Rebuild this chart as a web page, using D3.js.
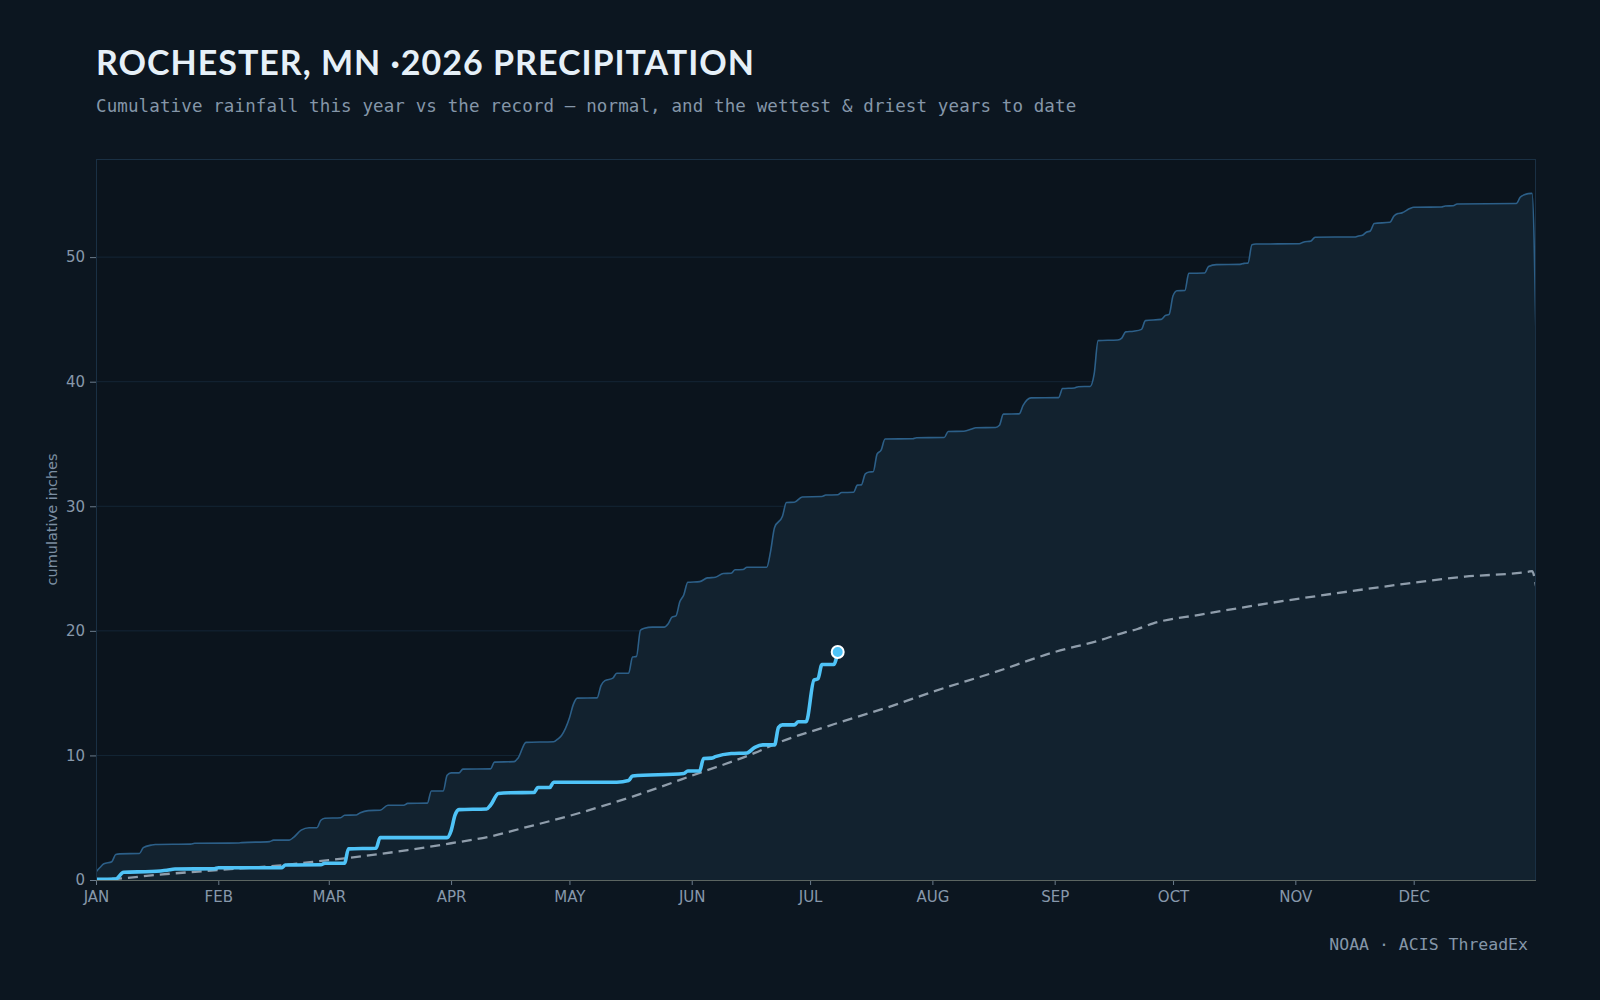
<!DOCTYPE html>
<html>
<head>
<meta charset="utf-8">
<script src="https://cdn.jsdelivr.net/npm/d3@7"></script>
<style>
  html, body { margin: 0; padding: 0; background: #0c1620; }
  svg { display: block; }
</style>
</head>
<body>
<div id="chart"></div>
<script>
// day of year (0 = Jan 1), cumulative inches
var thisYear = [
  [0, 0.05], [5, 0.08], [7, 0.62], [14, 0.68], [18, 0.78], [20, 0.88], [30, 0.9],
  [31, 0.98], [47, 0.98], [48, 1.2], [57, 1.22], [58, 1.35], [63, 1.35], [64, 2.5],
  [71, 2.55], [72, 3.4], [89, 3.4], [90, 3.95], [91, 5.2], [92, 5.65], [99, 5.7],
  [100, 6.0], [102, 6.95], [105, 7.0], [111, 7.02], [112, 7.42], [115, 7.42],
  [116, 7.85], [132, 7.85], [135, 7.98], [136, 8.35], [149, 8.55], [150, 8.75],
  [153, 8.75], [154, 9.75], [156, 9.78], [157, 9.9], [161, 10.15], [165, 10.2],
  [167, 10.65], [169, 10.85], [172, 10.85], [173, 12.25], [174, 12.45], [177, 12.45],
  [178, 12.7], [180, 12.7], [182, 16.05], [183, 16.15], [184, 17.3], [187, 17.3],
  [188, 18.3]
];

var normal = [
  [0, 0.02], [6, 0.12], [15, 0.4], [31, 0.8], [46, 1.15], [59, 1.6], [63, 1.74],
  [79, 2.4], [90, 2.95], [100, 3.5], [108, 4.15], [120, 5.15], [136, 6.7], [153, 8.6],
  [167, 10.2], [172, 10.9], [187, 12.5], [202, 14.0], [212, 15.1], [228, 16.7],
  [243, 18.3], [254, 19.2], [261, 19.9], [264, 20.15], [268, 20.6], [280, 21.3],
  [297, 22.2], [314, 23.0], [330, 23.7], [347, 24.35], [363, 24.74], [364, 24.8],
  [365, 23.6]
];

var wettest = [
  [0, 0.65], [1, 1.0], [2, 1.3], [4, 1.47], [5, 2.05], [6, 2.1], [11, 2.13], [12, 2.6],
  [14, 2.8], [15, 2.85], [24, 2.88], [25, 2.95], [36, 2.97], [37, 3.0], [44, 3.08],
  [45, 3.2], [49, 3.2], [50, 3.4], [52, 4.0], [54, 4.2], [56, 4.2], [57, 4.8],
  [58, 4.96], [62, 5.0], [63, 5.2], [66, 5.22], [67, 5.4], [69, 5.57], [72, 5.6],
  [74, 6.0], [78, 6.0], [79, 6.15], [84, 6.17], [85, 7.15], [88, 7.15], [89, 8.4],
  [90, 8.6], [92, 8.6], [93, 8.9], [100, 8.92], [101, 9.46], [106, 9.5], [107, 9.8],
  [109, 11.05], [116, 11.1], [117, 11.3], [118, 11.6], [120, 13.0], [121, 14.1],
  [122, 14.6], [127, 14.62], [128, 15.6], [129, 16.0], [131, 16.2], [132, 16.6],
  [135, 16.6], [136, 17.9], [137, 17.95], [138, 20.05], [139, 20.2], [141, 20.3],
  [144, 20.3], [145, 20.55], [146, 21.1], [147, 21.2], [148, 22.35], [149, 22.9],
  [150, 23.9], [153, 23.95], [155, 24.25], [157, 24.3], [159, 24.6], [161, 24.62],
  [162, 24.9], [164, 24.92], [165, 25.1], [170, 25.1], [171, 26.4], [172, 28.3],
  [174, 29.2], [175, 30.3], [177, 30.32], [179, 30.75], [184, 30.78], [185, 30.9],
  [188, 30.92], [189, 31.1], [192, 31.12], [193, 31.7], [194, 31.72], [195, 32.6],
  [196, 32.75], [197, 32.77], [198, 34.2], [199, 34.5], [200, 35.4], [207, 35.42],
  [208, 35.5], [215, 35.52], [216, 36.0], [220, 36.02], [222, 36.2], [223, 36.3],
  [228, 36.32], [229, 36.5], [230, 37.4], [234, 37.42], [235, 38.1], [237, 38.7],
  [244, 38.72], [245, 39.45], [248, 39.5], [249, 39.6], [252, 39.62], [253, 40.6],
  [254, 43.3], [259, 43.35], [260, 43.5], [261, 44.0], [263, 44.05], [265, 44.2],
  [266, 44.9], [270, 45.0], [271, 45.3], [272, 45.4], [273, 46.9], [274, 47.3],
  [276, 47.32], [277, 48.7], [281, 48.72], [282, 49.25], [284, 49.4], [290, 49.42],
  [291, 49.5], [292, 49.52], [293, 51.0], [294, 51.05], [305, 51.07], [306, 51.2],
  [308, 51.3], [309, 51.6], [319, 51.62], [320, 51.7], [321, 51.75], [322, 52.0],
  [323, 52.1], [324, 52.7], [328, 52.8], [329, 53.3], [330, 53.5], [331, 53.55],
  [333, 53.9], [334, 54.0], [341, 54.02], [342, 54.1], [344, 54.12], [345, 54.26],
  [360, 54.3], [361, 54.8], [362, 55.0], [363, 55.1], [364, 55.12], [365, 43.5]
];

var monthLabels = ["JAN", "FEB", "MAR", "APR", "MAY", "JUN", "JUL", "AUG", "SEP", "OCT", "NOV", "DEC"];
var monthStarts = [0, 31, 59, 90, 120, 151, 181, 212, 243, 273, 304, 334];
var yTicks = [0, 10, 20, 30, 40, 50];

function chart() {
  var W = 1600, H = 1000;
  var margin = { top: 159, right: 64, bottom: 120, left: 96 };
  var width = W - margin.left - margin.right,
    height = H - margin.top - margin.bottom;

  var svg = d3
    .select("#chart")
    .append("svg")
    .attr("width", W)
    .attr("height", H);

  svg.append("rect").attr("width", W).attr("height", H).attr("fill", "#0c1620");

  // title + subtitle
  svg
    .append("text")
    .attr("x", 96)
    .attr("y", 75)
    .style("font-family", "Lato, 'Open Sans', sans-serif")
    .style("font-weight", "700")
    .style("font-size", "34px")
    .style("letter-spacing", "1px")
    .style("fill", "#e6f0f8")
    .text("ROCHESTER, MN ·2026 PRECIPITATION");

  svg
    .append("text")
    .attr("x", 96)
    .attr("y", 112)
    .style("font-family", "'DejaVu Sans Mono', monospace")
    .style("font-size", "17.5px")
    .style("letter-spacing", "0.12px")
    .style("fill", "#8596a9")
    .text("Cumulative rainfall this year vs the record — normal, and the wettest & driest years to date");

  var g = svg
    .append("g")
    .attr("transform", "translate(" + margin.left + "," + margin.top + ")");

  var x = d3.scaleLinear().domain([0, 365]).range([0, width]);
  var y = d3
    .scaleLinear()
    .domain([0, d3.max(wettest, (d) => d[1]) * 1.05])
    .range([height, 0]);

  g.append("rect")
    .attr("width", width)
    .attr("height", height)
    .attr("fill", "#0b141d");

  g.append("clipPath")
    .attr("id", "plotclip")
    .append("rect")
    .attr("width", width)
    .attr("height", height);

  // gridlines
  g.selectAll(".grid")
    .data(yTicks.filter((d) => d > 0))
    .enter()
    .append("line")
    .attr("x1", 0)
    .attr("x2", width)
    .attr("y1", (d) => y(d))
    .attr("y2", (d) => y(d))
    .attr("stroke", "#142636")
    .attr("stroke-width", 1);

  var plot = g.append("g").attr("clip-path", "url(#plotclip)");

  var area = d3
    .area()
    .x((d) => x(d[0]))
    .y0(y(0))
    .y1((d) => y(d[1]))
    .curve(d3.curveMonotoneX);

  var line = d3
    .line()
    .x((d) => x(d[0]))
    .y((d) => y(d[1]))
    .curve(d3.curveMonotoneX);

  plot
    .append("path")
    .datum(wettest)
    .attr("d", area)
    .attr("fill", "#12222f");

  plot
    .append("path")
    .datum(wettest)
    .attr("d", line)
    .attr("fill", "none")
    .attr("stroke", "#2c5f88")
    .attr("stroke-width", 1.6);

  plot
    .append("path")
    .datum(normal)
    .attr("d", line)
    .attr("fill", "none")
    .attr("stroke", "#8f9dab")
    .attr("stroke-width", 2.3)
    .attr("stroke-dasharray", "10,6");

  plot
    .append("path")
    .datum(thisYear)
    .attr("d", line)
    .attr("fill", "none")
    .attr("stroke", "#4fc3f7")
    .attr("stroke-width", 3.6)
    .attr("stroke-linejoin", "round");

  var last = thisYear[thisYear.length - 1];
  g.append("circle")
    .attr("cx", x(last[0]))
    .attr("cy", y(last[1]))
    .attr("r", 6)
    .attr("fill", "#4fc3f7")
    .attr("stroke", "#ffffff")
    .attr("stroke-width", 2);

  // plot frame
  g.append("rect")
    .attr("x", 0.5)
    .attr("y", 0.5)
    .attr("width", width - 1)
    .attr("height", height)
    .attr("fill", "none")
    .attr("stroke", "#1a3044")
    .attr("stroke-width", 1);

  // axes
  var xAxis = g
    .append("g")
    .attr("transform", "translate(0," + height + ")")
    .call(
      d3
        .axisBottom(x)
        .tickValues(monthStarts)
        .tickFormat((d, i) => monthLabels[i])
        .tickSize(5)
        .tickPadding(6)
    );
  xAxis.select(".domain").remove();
  xAxis.selectAll("line").attr("stroke", "#6b7b8b");
  xAxis
    .selectAll("text")
    .style("font-family", "'DejaVu Sans', sans-serif")
    .style("font-size", "15px")
    .style("fill", "#8798ab");

  g.append("line")
    .attr("x1", 0)
    .attr("x2", width)
    .attr("y1", height + 0.5)
    .attr("y2", height + 0.5)
    .attr("stroke", "#5c6561")
    .attr("stroke-width", 1.2);

  var yAxis = g
    .append("g")
    .call(d3.axisLeft(y).tickValues(yTicks).tickSize(6).tickPadding(5));
  yAxis.select(".domain").remove();
  yAxis.selectAll("line").attr("stroke", "#6b7b8b");
  yAxis
    .selectAll("text")
    .style("font-family", "'DejaVu Sans', sans-serif")
    .style("font-size", "15px")
    .style("fill", "#8798ab");

  svg
    .append("text")
    .attr("transform", "translate(57," + (margin.top + height / 2) + ") rotate(-90)")
    .style("text-anchor", "middle")
    .style("font-family", "'DejaVu Sans', sans-serif")
    .style("font-size", "14.5px")
    .style("fill", "#7d8fa3")
    .text("cumulative inches");

  svg
    .append("text")
    .attr("x", 1528)
    .attr("y", 950)
    .style("text-anchor", "end")
    .style("font-family", "'DejaVu Sans Mono', monospace")
    .style("font-size", "16.5px")
    .style("fill", "#8596a9")
    .text("NOAA · ACIS ThreadEx");
}

chart();
</script>
</body>
</html>
